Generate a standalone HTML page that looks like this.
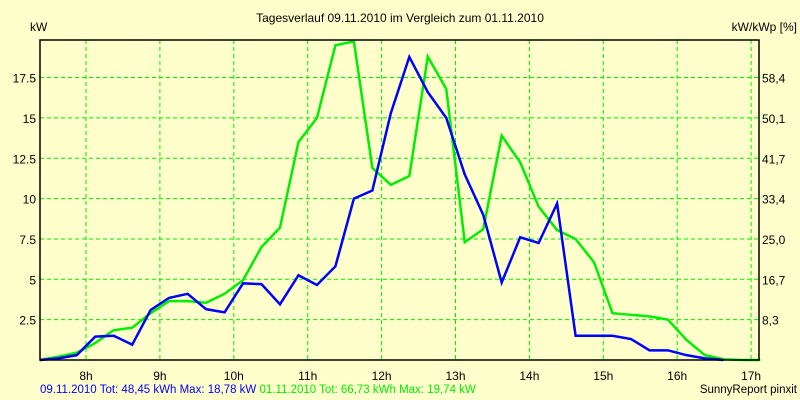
<!DOCTYPE html>
<html><head><meta charset="utf-8"><style>
body{margin:0;background:#ffffcc;}
svg{display:block;font-family:"Liberation Sans",sans-serif;font-size:12px;}
</style></head><body>
<svg id="chart" width="800" height="400">
<rect width="800" height="400" fill="#ffffcc"/>
<text x="400" y="22" text-anchor="middle" fill="#000">Tagesverlauf 09.11.2010 im Vergleich zum 01.11.2010</text>
<text x="30" y="31" fill="#000">kW</text>
<text x="797" y="31" text-anchor="end" fill="#000">kW/kWp [%]</text>
<g id="grid"></g><g id="series"></g><g id="axes"></g>
<text x="40" y="393" fill="#0000ff" font-size="11.5">09.11.2010 Tot: 48,45 kWh Max: 18,78 kW <tspan fill="#00ee00">01.11.2010 Tot: 66,73 kWh Max: 19,74 kW</tspan></text>
<text x="797" y="393" text-anchor="end" fill="#000" font-size="11.5">SunnyReport pinxit</text>
</svg>
<script>
const hourTicks=[8,9,10,11,12,13,14,15,16,17];
const kwTicks=[2.5,5,7.5,10,12.5,15,17.5];
const kwTickLabels=["2.5","5","7.5","10","12.5","15","17.5"];
const pctTickLabels=["8,3","16,7","25,0","33,4","41,7","50,1","58,4"];
const times=[7.375,7.625,7.875,8.125,8.375,8.625,8.875,9.125,9.375,9.625,9.875,10.125,10.375,10.625,10.875,11.125,11.375,11.625,11.875,12.125,12.375,12.625,12.875,13.125,13.375,13.625,13.875,14.125,14.375,14.625,14.875,15.125,15.375,15.625,15.875,16.125,16.375,16.625,16.875,17.125];
const blue09=[0,0.1,0.3,1.45,1.5,0.95,3.1,3.85,4.1,3.15,2.95,4.75,4.7,3.45,5.25,4.65,5.8,10,10.5,15.3,18.78,16.6,15,11.5,9,4.8,7.6,7.25,9.7,1.5,1.5,1.5,1.3,0.6,0.6,0.3,0.1,0];
const green01=[0,0.2,0.45,1.05,1.85,2.0,2.9,3.65,3.65,3.55,4.1,4.95,7.0,8.2,13.5,15,19.5,19.74,11.9,10.85,11.4,18.8,16.8,7.3,8.1,13.9,12.25,9.5,8.05,7.5,6.05,2.9,2.8,2.7,2.5,1.25,0.3,0.05,0,0];
const L=40,R=759,T=40,B=360;
// times listed above are half-step offsets; actual sample i sits at 7.378 + i*0.25 (pixel 40 + 18.5*i)
const x=h=>86+(h-8)*73.9;
const tx=i=>x(times[i]-0.003+0.003);
const y=v=>360-v*16.14;
const NS="http://www.w3.org/2000/svg";
function mk(tag,attrs,parent){const e=document.createElementNS(NS,tag);for(const k in attrs)e.setAttribute(k,attrs[k]);parent.appendChild(e);return e;}
const grid=document.getElementById('grid'),axes=document.getElementById('axes'),ser=document.getElementById('series');
kwTicks.forEach((v,i)=>{
 const l=mk('line',{x1:L,x2:R,y1:y(v),y2:y(v),stroke:'#00ee00','stroke-dasharray':'4,3'},grid);
 
 
 const t=mk('text',{x:36,y:y(v)+5,'text-anchor':'end',fill:'#000'},axes);t.textContent=kwTickLabels[i];
 
 
 const t2=mk('text',{x:762,y:y(v)+5,fill:'#000'},axes);t2.textContent=pctTickLabels[i];
 
 
});
hourTicks.forEach(h=>{
 const l=mk('line',{x1:x(h),x2:x(h),y1:T,y2:B,stroke:'#00ee00','stroke-dasharray':'4,3'},grid);
 
 
 const t=mk('text',{x:x(h),y:380,'text-anchor':'middle',fill:'#000'},axes);t.textContent=h+'h';
 
 
});
const fr=mk('rect',{x:L,y:T,width:R-L,height:B-T,fill:'none',stroke:'#000','stroke-width':1.5},axes);


function line(data,color,name){
 const pts=data.map((v,i)=>x(times[i])+','+y(v)).join(' ');
 const p=mk('polyline',{points:pts,fill:'none',stroke:color,'stroke-width':2.5,'stroke-linejoin':'miter'},ser);
 
 
}
line(green01,'#00ee00','series-01-11-2010');
line(blue09,'#0000ff','series-09-11-2010');
</script>
</body></html>
